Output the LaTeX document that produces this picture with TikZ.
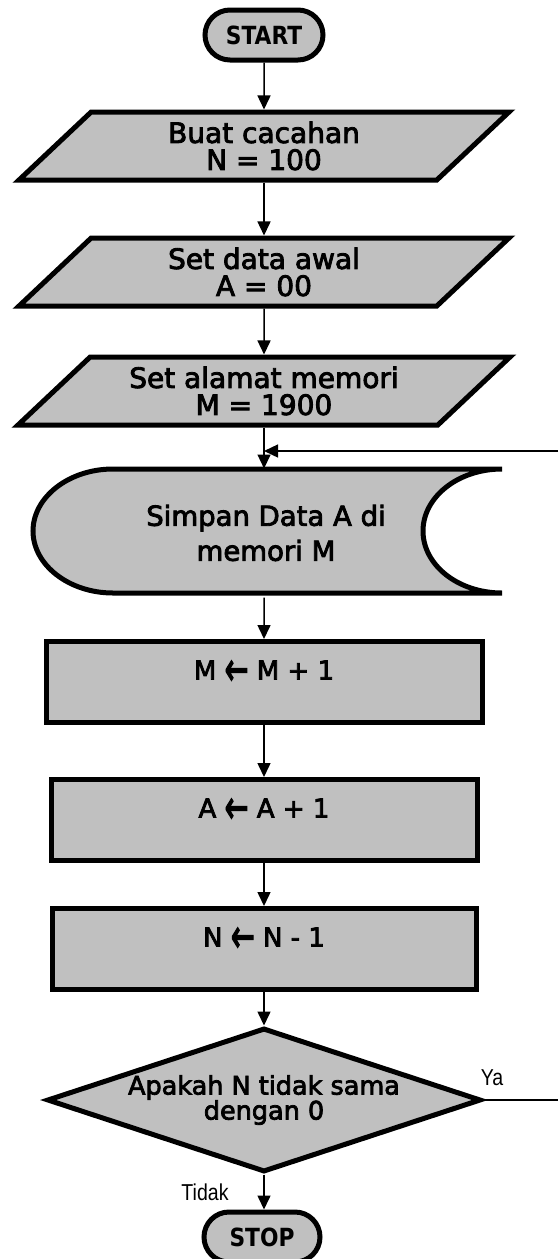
\documentclass[tikz,border=0pt]{standalone}
\usepackage{fontspec}
\setmainfont{DejaVu Sans}
\newfontfamily\isi{DejaVu Sans}[UprightFeatures={FakeBold=3}]
\newfontfamily\tebal{DejaVu Sans}[FakeStretch=0.87]
\newfontfamily\ketfont{Liberation Sans}[FakeStretch=0.85]
\usetikzlibrary{shapes.geometric}
\usetikzlibrary{shapes.misc}
\usetikzlibrary{arrows.meta}
\definecolor{abu}{RGB}{192,192,192}
\newcommand{\kiri}{\raisebox{-0.22em}{\scalebox{1.1}[1.8]{←}}}
\tikzset{blok/.style={draw=black,line width=5pt,fill=abu,align=center,inner sep=0pt,font=\isi\fontsize{28}{27}\selectfont}}
\tikzset{terminal/.style={blok,rounded rectangle,minimum width=118pt,minimum height=50pt,font=\tebal\bfseries\fontsize{25}{25}\selectfont}}
\tikzset{io/.style={blok,trapezium,trapezium left angle=34,trapezium right angle=146,trapezium stretches body=true,minimum height=68pt,minimum width=#1}}
\tikzset{proses/.style={blok,rectangle,minimum height=81pt,minimum width=#1,text height=18pt,text depth=23pt,font=\isi\fontsize{26}{26}\selectfont}}
\tikzset{keputusan/.style={blok,diamond,aspect=3,minimum width=434pt,minimum height=144pt,font=\isi\fontsize{25.5}{25}\selectfont}}
\tikzset{panah/.style={line width=1.5pt,-{Triangle[length=14pt,width=13pt]}}}
\tikzset{ket/.style={font=\ketfont\fontsize{23}{23}\selectfont,inner sep=0pt}}

\begin{document}
\begin{tikzpicture}[x=1pt,y=-1pt]
      \useasboundingbox (0,0) rectangle (558,1259);
      \node[terminal] (mulai) at (264,35) {START};
      \node[io=490pt] (cacah) at (264,146) {Buat cacahan\\N = 100};
      \node[io=490pt] (dataawal) at (264,272) {Set data awal\\A = 00};
      \node[io=492pt] (alamat) at (264,391) {Set alamat memori\\M = 1900};

      \draw[line width=5pt,fill=abu] (113,469) -- (502,469)
            .. controls (458,469) and (423,497) .. (423,531)
            .. controls (423,565) and (458,593) .. (502,593) -- (113,593)
            .. controls (69,593) and (33,565) .. (33,531)
            .. controls (33,497) and (69,469) .. cycle;
      \node[align=center,inner sep=0pt,outer sep=2.5pt,minimum height=124pt,font=\isi\fontsize{27.5}{35}\selectfont] (simpan) at (266,533) {Simpan Data A di\\memori M};

      \node[proses=436pt] (tambahM) at (264,682) {M \kiri{} M + 1};
      \node[proses=426pt] (tambahA) at (264,820) {A \kiri{} A + 1};
      \node[proses=424pt] (kurangN) at (264,949) {N \kiri{} N - 1};
      \node[keputusan] (cek) at (264,1100) {Apakah N tidak sama\\dengan 0};
      \node[terminal,minimum width=116pt] (stop) at (262,1237) {STOP};

      \draw[panah] (mulai.south) -- (cacah.north);
      \draw[panah] (cacah.south) -- (dataawal.north);
      \draw[panah] (dataawal.south) -- (alamat.north);
      \draw[panah] (alamat.south) -- (alamat.south |- simpan.north);
      \coordinate (balik) at (558,451);
      \draw[panah] (balik) -- (balik -| alamat.south);
      \draw[panah] (simpan.south -| alamat.south) -- (tambahM.north);
      \draw[panah] (tambahM.south) -- (tambahA.north);
      \draw[panah] (tambahA.south) -- (kurangN.north);
      \draw[panah] (kurangN.south) -- (cek.north);
      \draw[panah] (cek.south) -- (cek.south |- stop.north);
      \coordinate (ya) at (558,1100);
      \draw[line width=1.5pt] (cek.east) -- (ya);

      \node[ket] (labelya) at (492,1078) {Ya};
      \node[ket] (labeltidak) at (205,1192) {Tidak};
\end{tikzpicture}
\end{document}
